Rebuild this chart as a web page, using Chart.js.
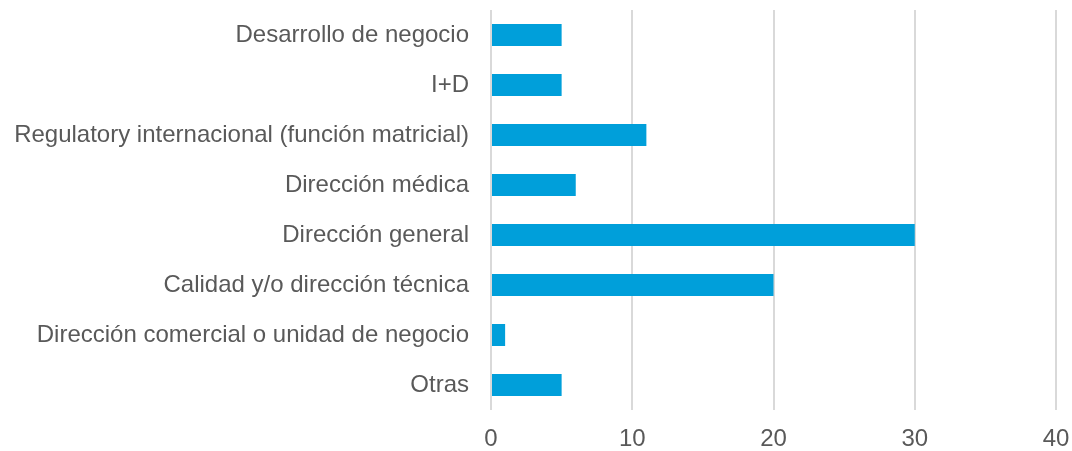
<!DOCTYPE html>
<html>
<head>
<meta charset="utf-8">
<script src="https://cdn.jsdelivr.net/npm/chart.js@4"></script>
<style>
  html, body { margin: 0; padding: 0; background: #fff; }
  #wrap { width: 1072px; height: 451px; }
</style>
</head>
<body>
<div id="wrap"><canvas id="chart" width="1072" height="451"></canvas></div>
<script>
const categories = [
    'Desarrollo de negocio',
    'I+D',
    'Regulatory internacional (función matricial)',
    'Dirección médica',
    'Dirección general',
    'Calidad y/o dirección técnica',
    'Dirección comercial o unidad de negocio',
    'Otras'
];
const values = [5, 5, 11, 6, 30, 20, 1, 5];
const xMin = 0;
const xMax = 40;
const xStep = 10;

const textColor = '#595959';
const font = { family: "'Liberation Sans', Arial, sans-serif", size: 24 };

new Chart(document.getElementById('chart').getContext('2d'), {
    type: 'bar',
    data: {
        labels: categories,
        datasets: [{
            data: values,
            backgroundColor: '#009FDA',
            borderWidth: 0,
            barPercentage: 0.44,
            categoryPercentage: 1.0
        }]
    },
    options: {
        indexAxis: 'y',
        responsive: false,
        animation: false,
        layout: { padding: { left: 0, right: 16, top: 10, bottom: 0 } },
        plugins: {
            legend: { display: false },
            tooltip: { enabled: false }
        },
        scales: {
            x: {
                min: xMin,
                max: xMax,
                ticks: { stepSize: xStep, color: textColor, font: font, padding: 15 },
                grid: { color: '#d9d9d9', lineWidth: 2, drawTicks: false },
                border: { display: false },
                afterFit: (axis) => {
                    axis.height = 41;
                    axis.paddingLeft = 0;
                    axis.paddingRight = 0;
                }
            },
            y: {
                ticks: { color: textColor, font: font, padding: 22 },
                grid: { display: false, drawTicks: false },
                border: { display: false },
                afterFit: (axis) => {
                    axis.width = 491;
                    axis.paddingTop = 0;
                    axis.paddingBottom = 0;
                }
            }
        }
    }
});
</script>
</body>
</html>
